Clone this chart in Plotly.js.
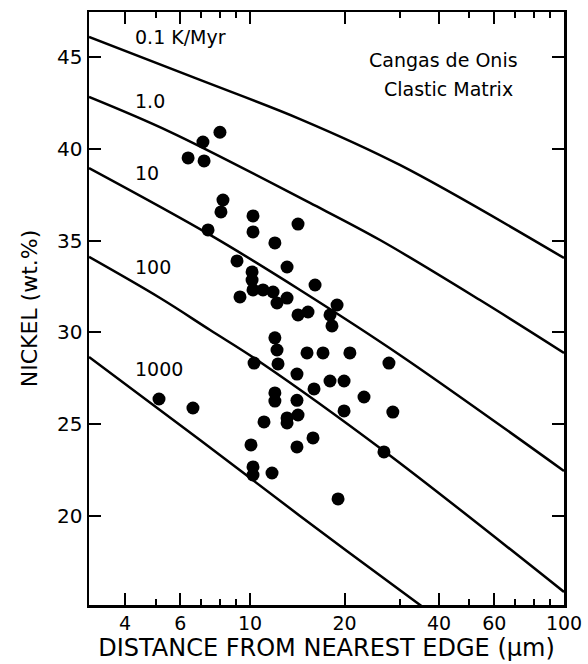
<!DOCTYPE html>
<html><head><meta charset="utf-8">
<script src="https://cdn.plot.ly/plotly-3.0.1.min.js"></script>
<style>html,body{margin:0;padding:0;background:#fff}</style>
</head><body><div id="chart" style="width:588px;height:664px"></div>
<script>
// Measured points: distance from nearest edge (µm) and nickel content (wt.%)
const distance = [8.02, 7.08, 6.35, 7.14, 8.20, 8.08, 7.35, 10.22, 10.22, 14.22,
  12.0, 9.09, 13.12, 10.15, 10.15, 9.29, 10.22, 11.0, 11.84, 12.19,
  13.12, 16.11, 18.93, 14.22, 15.30, 17.98, 18.24, 12.0, 12.19, 12.28,
  10.30, 15.19, 17.08, 20.8, 27.7, 14.11, 17.98, 19.93, 15.99, 23.07,
  12.0, 12.0, 14.11, 19.93, 28.5, 11.08, 13.12, 14.22, 13.12, 15.87,
  14.11, 26.7, 10.07, 10.22, 10.22, 11.75, 5.13, 6.58, 19.07];
const nickel = [40.9, 40.37, 39.5, 39.34, 37.21, 36.56, 35.58, 36.34, 35.47, 35.9,
  34.87, 33.89, 33.56, 33.29, 32.85, 31.93, 32.31, 32.31, 32.2, 31.6,
  31.87, 32.58, 31.49, 30.95, 31.11, 30.95, 30.35, 29.7, 29.04, 28.28,
  28.33, 28.88, 28.88, 28.88, 28.33, 27.73, 27.35, 27.35, 26.92, 26.48,
  26.7, 26.26, 26.3, 25.72, 25.66, 25.12, 25.34, 25.5, 25.07, 24.25,
  23.76, 23.49, 23.87, 22.67, 22.23, 22.34, 26.37, 25.88, 20.93];

// Cooling-rate curves
const rate01X = [3.07, 6.93, 14.43, 30.0, 100];
const rate01Y = [46.09, 43.75, 41.62, 39.12, 34.05];
const rate1X = [3.07, 5.56, 15.52, 25.94, 54.0, 100];
const rate1Y = [42.82, 40.92, 37.05, 35.03, 31.76, 28.88];
const rate10X = [3.07, 7.46, 14.43, 30.0, 100];
const rate10Y = [38.95, 35.31, 32.31, 28.77, 22.45];
const rate100X = [3.07, 5.17, 7.46, 10.76, 26.7, 100];
const rate100Y = [34.11, 31.87, 30.13, 28.39, 23.54, 15.86];
const rate1000X = [3.07, 6.93, 14.43, 34.8, 40];
const rate1000Y = [28.66, 24.14, 20.0, 15.15, 14.4];

const rateLabels = ['0.1 K/Myr', '1.0', '10', '100', '1000'];
const boxLabels = ['Cangas de Onis', 'Clastic Matrix'];

const xMajor = [4, 6, 10, 20, 40, 60, 100];
const xMajorText = ['4', '6', '10', '20', '40', '60', '100'];
const xMinor = [5, 7, 8, 9, 30, 50, 70, 80, 90];
const yTicks = [20, 25, 30, 35, 40, 45];

const FONT = 'DejaVu Sans, Arial, sans-serif';
const lineStyle = {color: '#000', width: 2.5, shape: 'spline', smoothing: 1};
const curveX = [rate01X, rate1X, rate10X, rate100X, rate1000X];
const curveY = [rate01Y, rate1Y, rate10Y, rate100Y, rate1000Y];

const traces = curveX.map((xs, i) => ({
  x: xs, y: curveY[i], type: 'scatter', mode: 'lines',
  line: lineStyle, hoverinfo: 'skip', showlegend: false
}));
traces.push({
  x: distance, y: nickel, type: 'scatter', mode: 'markers',
  marker: {color: '#000', size: 13}, showlegend: false, cliponaxis: false
});

const labelY = [0.958, 0.850, 0.7285, 0.570, 0.398];
const annotations = rateLabels.map((t, i) => ({
  text: t, xref: 'paper', yref: 'paper', x: 0.0926, y: labelY[i],
  xanchor: 'left', yanchor: 'middle', showarrow: false,
  font: {family: FONT, size: 19, color: '#000'}
}));
annotations.push({text: boxLabels[0], xref: 'paper', yref: 'paper', x: 0.747, y: 0.919,
  xanchor: 'center', yanchor: 'middle', showarrow: false, font: {family: FONT, size: 19, color: '#000'}});
annotations.push({text: boxLabels[1], xref: 'paper', yref: 'paper', x: 0.756, y: 0.870,
  xanchor: 'center', yanchor: 'middle', showarrow: false, font: {family: FONT, size: 19, color: '#000'}});

const layout = {
  width: 588, height: 664,
  margin: {l: 89, r: 24, t: 12, b: 59},
  paper_bgcolor: '#fff', plot_bgcolor: '#fff',
  font: {family: FONT, color: '#000'},
  showlegend: false,
  xaxis: {
    type: 'log', range: [Math.log10(3.07), 2],
    tickmode: 'array', tickvals: xMajor, ticktext: xMajorText,
    ticks: 'inside', ticklen: 12, tickwidth: 2, tickcolor: '#000',
    minor: {tickmode: 'array', tickvals: xMinor, ticks: 'inside', ticklen: 6, tickwidth: 2, tickcolor: '#000', showgrid: false},
    showline: true, linecolor: '#000', linewidth: 2.5, mirror: 'allticks',
    showgrid: false, zeroline: false,
    tickfont: {family: FONT, size: 19, color: '#000'},
    title: {text: 'DISTANCE FROM NEAREST EDGE (\u03bcm)', font: {family: FONT, size: 24, color: '#000'}, standoff: 2},
    automargin: false
  },
  yaxis: {
    range: [15.15, 47.45],
    tickmode: 'array', tickvals: yTicks,
    ticks: 'inside', ticklen: 12, tickwidth: 2, tickcolor: '#000',
    showline: true, linecolor: '#000', linewidth: 2.5, mirror: 'allticks',
    showgrid: false, zeroline: false,
    tickfont: {family: FONT, size: 20, color: '#000'},
    title: {text: 'NICKEL (wt.%)', font: {family: FONT, size: 22, color: '#000'}, standoff: 14},
    automargin: false
  },
  annotations: annotations
};

Plotly.newPlot('chart', traces, layout, {displayModeBar: false, staticPlot: true});
</script>
</body></html>
